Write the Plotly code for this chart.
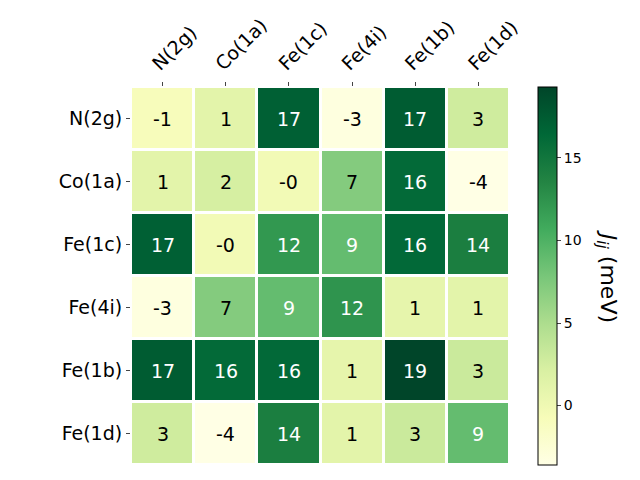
import plotly.graph_objects as go

labels = ["N(2g)", "Co(1a)", "Fe(1c)", "Fe(4i)", "Fe(1b)", "Fe(1d)"]
row_N2g  = [-0.9, 1.2, 17.1, -3.2, 17.4, 2.8]
row_Co1a = [1.2, 2.3, -0.3, 7.2, 16.2, -3.6]
row_Fe1c = [17.1, -0.3, 12.1, 8.9, 16.3, 14.2]
row_Fe4i = [-3.2, 7.2, 8.9, 12.4, 0.9, 1.2]
row_Fe1b = [17.4, 16.2, 16.3, 0.9, 19.3, 3.1]
row_Fe1d = [2.8, -3.6, 14.2, 1.2, 3.1, 8.9]
z = [row_N2g, row_Co1a, row_Fe1c, row_Fe4i, row_Fe1b, row_Fe1d]

ylgn = ["#ffffe5", "#f7fcb9", "#d9f0a3", "#addd8e", "#78c679",
        "#41ab5d", "#238443", "#006837", "#004529"]
cs = [[i / 8, c] for i, c in enumerate(ylgn)]

zmin, zmax = -3.6, 19.3
FONT = "DejaVu Sans"

fig = go.Figure(go.Heatmap(
    z=z, x=labels, y=labels, colorscale=cs, zmin=zmin, zmax=zmax,
    xgap=3, ygap=3,
    colorbar=dict(
        thickness=19, len=1, lenmode="fraction", y=0.5, yanchor="middle",
        x=1.075, xanchor="left", xpad=0, ypad=0,
        outlinewidth=1, outlinecolor="black",
        tickvals=[0, 5, 10, 15], ticks="outside", ticklen=4,
        tickfont=dict(family=FONT, size=14, color="black"),
    ),
))

for i, yl in enumerate(labels):
    for j, xl in enumerate(labels):
        v = z[i][j]
        txt = "%d" % round(v) if round(v) != 0 else ("-0" if v < 0 else "0")
        fig.add_annotation(x=xl, y=yl, text=txt, showarrow=False,
                           font=dict(family=FONT, size=19,
                                     color="white" if v > 8 else "black"))

fig.add_annotation(xref="paper", yref="paper", x=1.30, y=0.5,
                   text="<i>J</i><sub><i>ij</i></sub> (meV)", textangle=90,
                   showarrow=False, font=dict(family=FONT, size=22, color="black"))

fig.update_xaxes(side="top", tickangle=-45, ticks="outside", ticklen=4,
                 ticklabelshift=-9,
                 tickfont=dict(family=FONT, size=19, color="black"),
                 showgrid=False, zeroline=False)
fig.update_yaxes(autorange="reversed", ticks="outside", ticklen=4,
                 tickfont=dict(family=FONT, size=19, color="black"),
                 showgrid=False, zeroline=False)
fig.update_layout(
    width=640, height=480,
    margin=dict(l=131, r=130, t=87, b=15),
    plot_bgcolor="white", paper_bgcolor="white",
)
fig.write_html("out.html")
